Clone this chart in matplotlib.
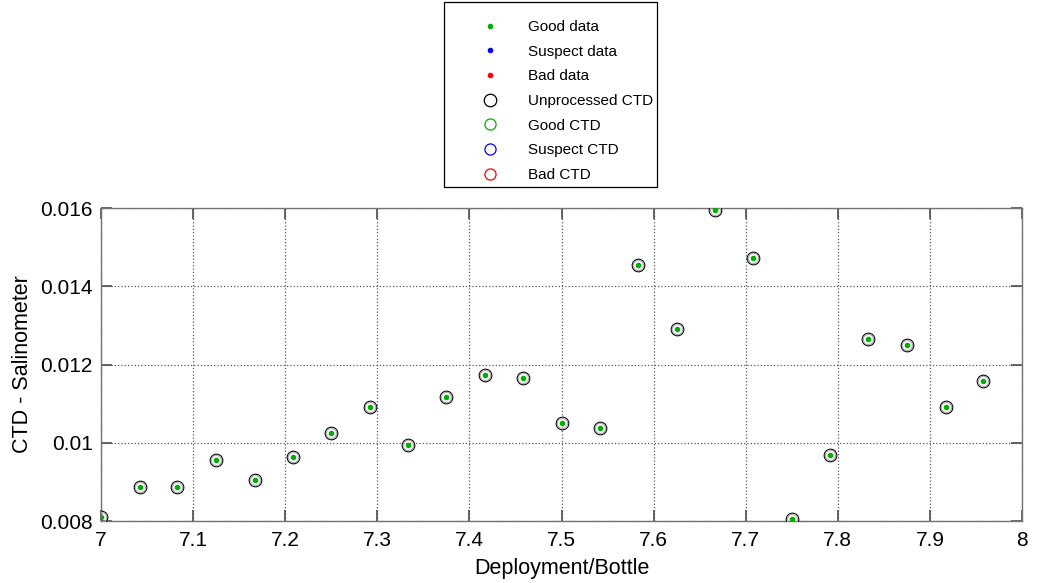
import matplotlib
matplotlib.use("Agg")
import matplotlib.pyplot as plt
from matplotlib.patches import Rectangle

plt.rcParams['font.family'] = ['Liberation Sans', 'DejaVu Sans']

# Data
bottle = [7.000, 7.042, 7.083, 7.125, 7.167, 7.208, 7.250, 7.292, 7.333, 7.375, 7.417, 7.458,
          7.500, 7.542, 7.583, 7.625, 7.667, 7.708, 7.750, 7.792, 7.833, 7.875, 7.917, 7.958]
diff = [0.00810, 0.00887, 0.00887, 0.00956, 0.00905, 0.00964, 0.01025, 0.01091, 0.00994,
        0.01117, 0.01173, 0.01166, 0.01050, 0.01038, 0.01454, 0.01291, 0.01595, 0.01472,
        0.00805, 0.00969, 0.01265, 0.01250, 0.01091, 0.01158]
xticks = [7.0, 7.1, 7.2, 7.3, 7.4, 7.5, 7.6, 7.7, 7.8, 7.9, 8.0]
xticklabels = ['7', '7.1', '7.2', '7.3', '7.4', '7.5', '7.6', '7.7', '7.8', '7.9', '8']
yticks = [0.008, 0.010, 0.012, 0.014, 0.016]
yticklabels = ['0.008', '0.01', '0.012', '0.014', '0.016']

fig = plt.figure(figsize=(10.38, 5.83), dpi=100)
ax = fig.add_axes([0.0973, 0.1063, 0.8873, 0.5369])

h1, = ax.plot(bottle, diff, linestyle='none', marker='.', color='#00b000', markersize=6, label='Good data', zorder=4)
h2, = ax.plot([], [], linestyle='none', marker='.', color='#0000ff', markersize=6, label='Suspect data')
h3, = ax.plot([], [], linestyle='none', marker='.', color='#ff0000', markersize=6, label='Bad data')
h4, = ax.plot(bottle, diff, linestyle='none', marker='o', markerfacecolor='none', markeredgecolor='black',
              markersize=9, markeredgewidth=0.9, label='Unprocessed CTD', zorder=3)
ax.plot(bottle, diff, linestyle='none', marker='o', markerfacecolor='none', markeredgecolor='#b0b0b0',
        markersize=7.5, markeredgewidth=0.9, zorder=3)
g5, = ax.plot([], [], linestyle='none', marker='o', markerfacecolor='none', markeredgecolor='#00b000',
              markersize=8, markeredgewidth=0.9, label='Good CTD')
h6, = ax.plot([], [], linestyle='none', marker='o', markerfacecolor='none', markeredgecolor='#0000ff',
              markersize=8, markeredgewidth=0.9, label='Suspect CTD')
h7, = ax.plot([], [], linestyle='none', marker='o', markerfacecolor='none', markeredgecolor='#ff0000',
              markersize=8, markeredgewidth=0.9, label='Bad CTD')

ax.set_xlim(7.0, 8.0)
ax.set_ylim(0.008, 0.016)
ax.set_xticks(xticks)
ax.set_xticklabels(xticklabels)
ax.set_yticks(yticks)
ax.set_yticklabels(yticklabels)
ax.tick_params(direction='in', length=8, width=1.2, top=True, right=True, labelsize=15,
               color='0.3')
ax.tick_params(axis='x', pad=7)
ax.tick_params(axis='y', pad=6)
ax.grid(True, linestyle=':', color='0.35', linewidth=0.9)
for s in ax.spines.values():
    s.set_color('0.45')
    s.set_linewidth(1.0)

ax.set_xlabel('Deployment/Bottle', fontsize=15.5, labelpad=6)
ax.set_ylabel('CTD - Salinometer', fontsize=15.5, labelpad=5)

# legend box
fig.add_artist(Rectangle((444 / 1038, 1 - 187 / 583), 213 / 1038, 185 / 583,
                         transform=fig.transFigure, facecolor='white', edgecolor='black',
                         linewidth=0.9))
leg = fig.legend(handles=[h1, h2, h3, h4, g5, h6, h7], loc='upper left',
                 bbox_to_anchor=(474.7 / 1038, 1 - 20 / 583), fontsize=11, frameon=False,
                 labelspacing=0.70, handlelength=2.0, handletextpad=1.48,
                 borderpad=0.0, borderaxespad=0.0)

fig.savefig('out.png', dpi=100)
